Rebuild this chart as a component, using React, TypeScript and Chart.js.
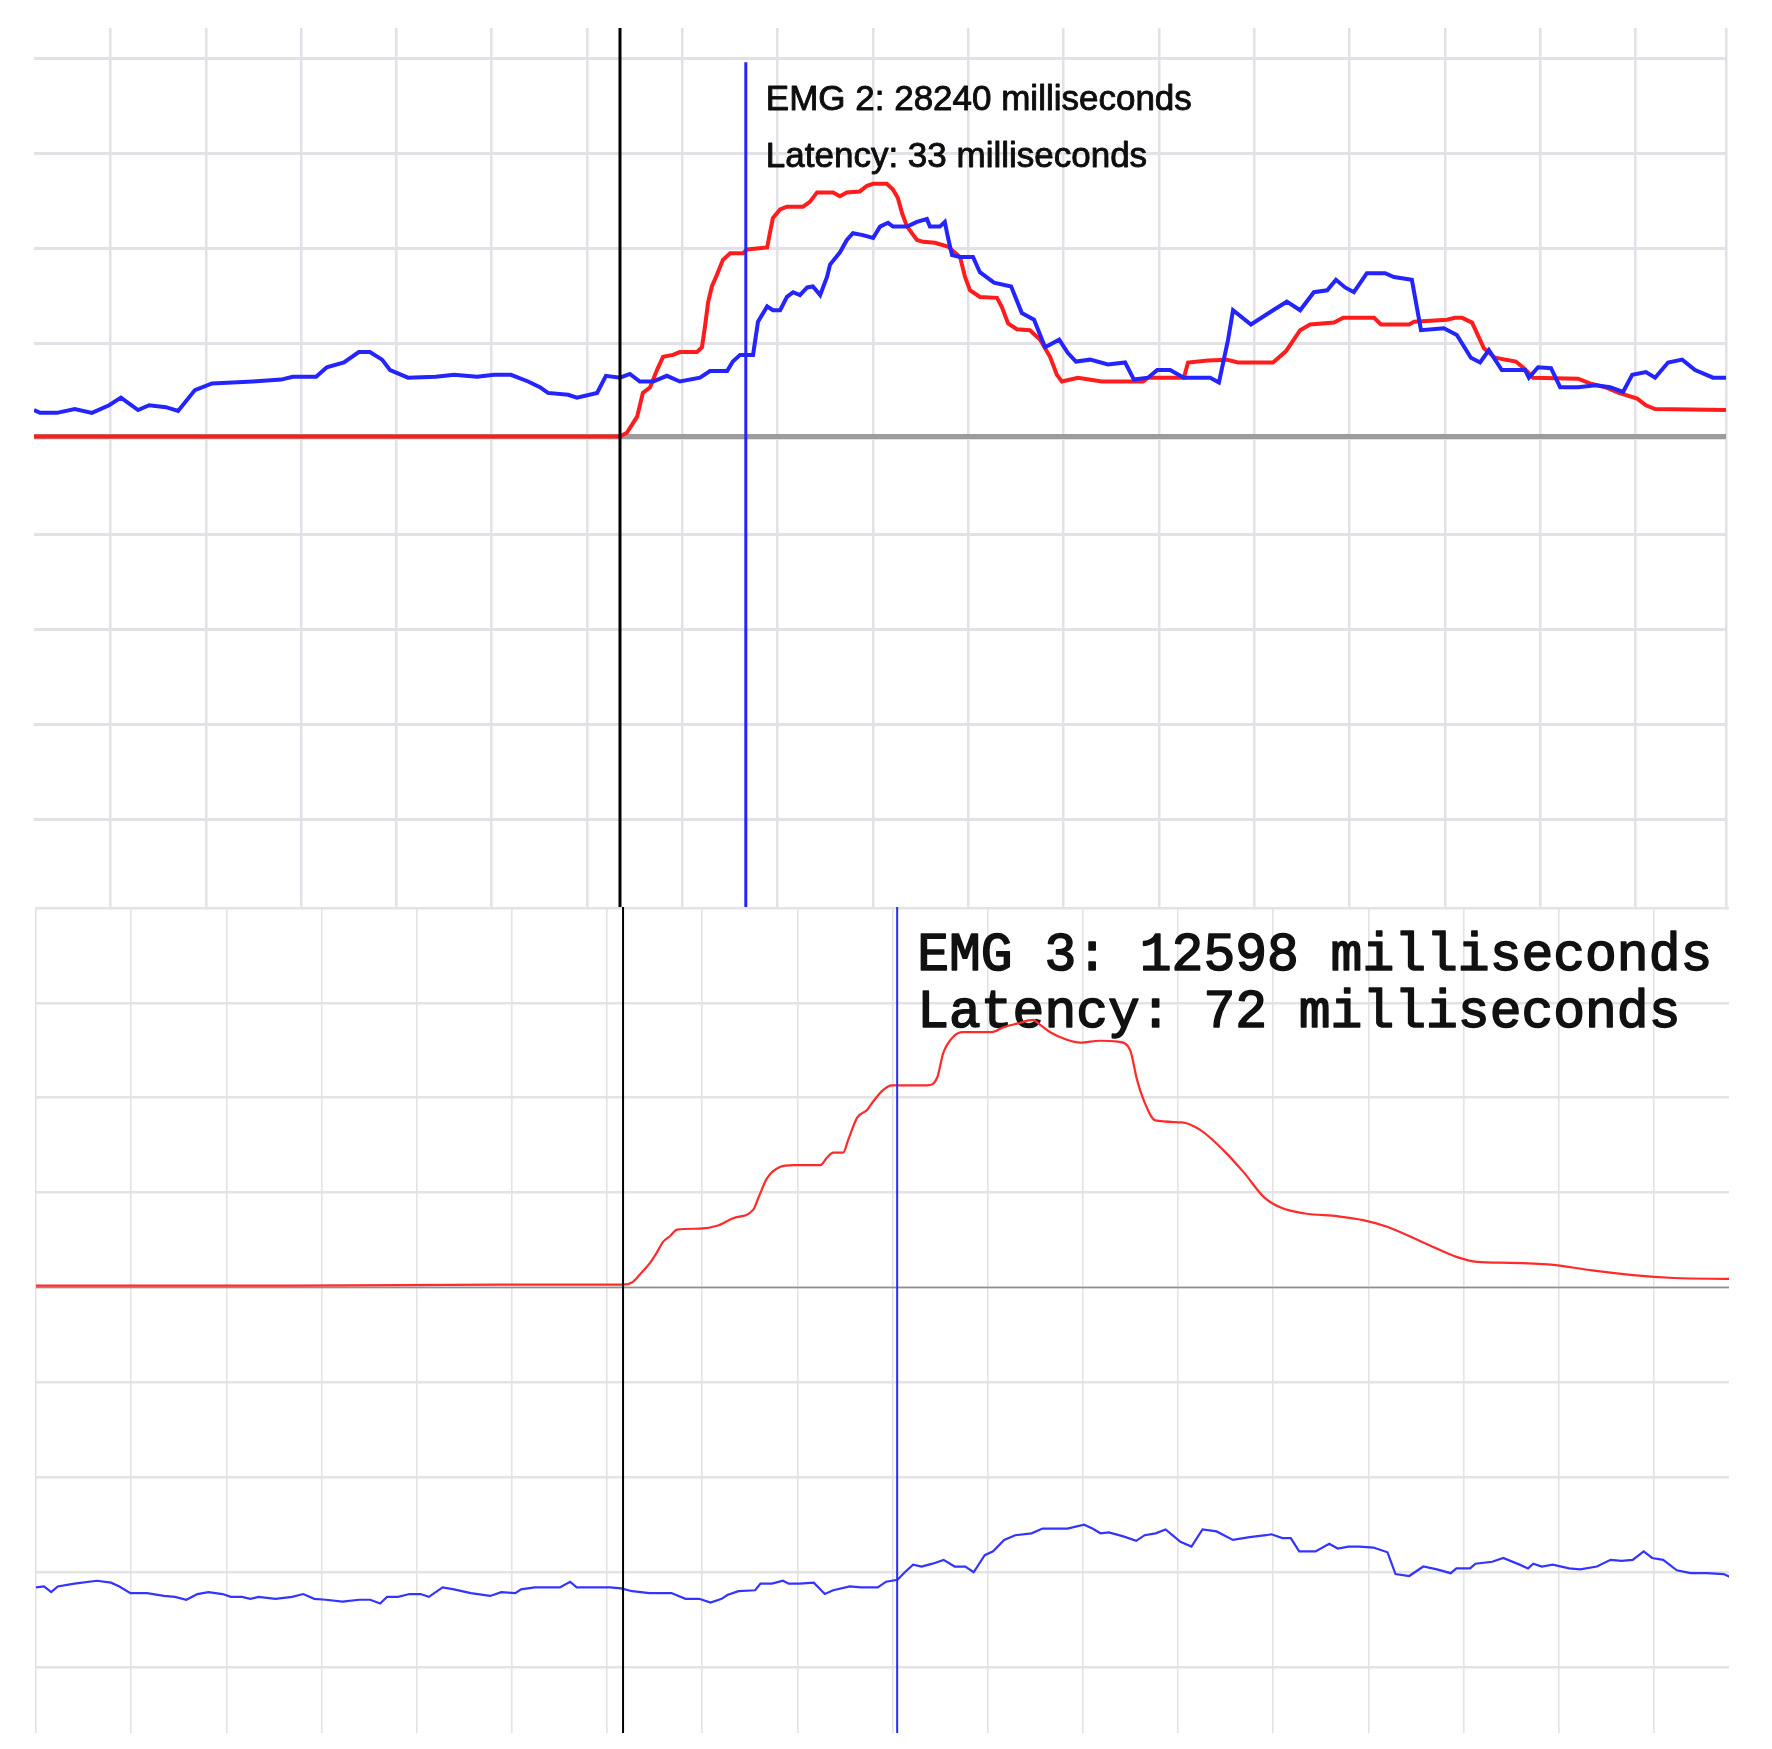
import React, { useEffect, useRef } from "react";
import { Chart, registerables } from "chart.js";

Chart.register(...registerables);

type Pt = [number, number];

// ---------------- EMG 2 (upper panel) ----------------
const emg2Lines = ["EMG 2: 28240 milliseconds", "Latency: 33 milliseconds"];
const emg2StimulusMs = 0;
const emg2LatencyMs = 33;
const emg2LatencyMarkerTop = 394;
const emg2XRange: Pt = [-153.7, 290.1];
const emg2YRange: Pt = [-495, 430];
const emg2FirstGridMs = -133.65;
const emg2GridCount = 17;
const emg2YGrid = [-402.5, -302.5, -202.5, -102.5, -2.5, 97.5, 197.5, 297.5, 397.5];

const emg2Blue: Pt[] = [
  [-153.7, 28], [-152.1, 25], [-147.7, 25], [-143.0, 29], [-138.5, 25], [-134.0, 33], [-130.9, 41], [-126.4, 28],
  [-123.5, 33], [-119.1, 31], [-115.9, 27], [-111.5, 49], [-107.0, 56], [-96.3, 58], [-88.9, 60], [-85.8, 63],
  [-79.7, 63], [-76.9, 73], [-72.4, 78], [-68.5, 89], [-65.6, 89], [-62.4, 81], [-60.3, 70], [-55.6, 62],
  [-48.3, 63], [-43.5, 65], [-37.5, 63], [-33.0, 65], [-28.6, 65], [-24.1, 58], [-21.0, 52], [-18.9, 46],
  [-13.6, 44], [-11.3, 41], [-6.0, 46], [-3.7, 64], [0, 62], [2.6, 66], [5.2, 58], [8.7, 58], [12.3, 64],
  [15.7, 58], [21.0, 62], [23.6, 69], [28.1, 69], [29.6, 79], [31.5, 86], [34.9, 86], [36.2, 121], [38.6, 137],
  [40.1, 133], [42.0, 133], [43.8, 147], [45.4, 152], [47.2, 149], [49.1, 157], [50.6, 158], [52.5, 149],
  [54.3, 168], [55.1, 181], [57.7, 194], [59.5, 207], [61.1, 214], [63.7, 212], [66.4, 209], [68.2, 221],
  [70.3, 225], [71.6, 221], [75.3, 221], [77.9, 226], [80.5, 229], [81.3, 221], [83.9, 221], [85.2, 226],
  [86.0, 210], [87.1, 191], [89.2, 189], [92.6, 189], [94.4, 173], [98.1, 162], [102.6, 158], [105.4, 130],
  [108.6, 123], [111.5, 94], [115.2, 102], [117.5, 88], [119.6, 79], [123.3, 81], [128.0, 76], [132.5, 78],
  [134.8, 60], [138.5, 62], [140.9, 70], [144.3, 70], [147.9, 62], [154.8, 62], [157.1, 57], [159.5, 102],
  [160.8, 133], [165.5, 118], [171.3, 133], [174.9, 142], [178.4, 133], [182.0, 152], [185.5, 154], [187.8, 165],
  [190.2, 157], [192.5, 152], [195.9, 172], [200.7, 172], [203.0, 168], [207.7, 165], [210.1, 112], [216.1, 114],
  [219.5, 107], [223.2, 83], [225.6, 78], [227.9, 91], [231.3, 70], [237.4, 70], [238.4, 62], [240.8, 73],
  [244.2, 72], [246.6, 52], [251.3, 52], [256.0, 54], [259.7, 52], [263.1, 47], [265.5, 65], [269.1, 68],
  [271.5, 62], [274.9, 78], [278.6, 81], [282.0, 70], [286.7, 62], [290.1, 62],
];

const emg2Red: Pt[] = [
  [-153.7, 0], [0, 0], [1.8, 4], [4.5, 21], [6.0, 46], [7.9, 52], [9.7, 70], [11.3, 84], [13.9, 86], [15.7, 89],
  [20.2, 89], [21.5, 94], [22.3, 116], [23.1, 141], [24.1, 158], [25.4, 170], [27.0, 186], [28.9, 193],
  [32.3, 193], [33.3, 197], [38.6, 199], [39.3, 214], [40.1, 230], [42.0, 239], [43.8, 242], [48.0, 242],
  [49.8, 247], [51.7, 257], [55.9, 257], [57.7, 253], [59.5, 257], [62.9, 258], [64.8, 264], [66.4, 266],
  [70.0, 266], [71.6, 260], [72.9, 251], [74.0, 235], [75.3, 221], [77.9, 207], [79.5, 205], [82.6, 204],
  [86.0, 200], [89.2, 189], [90.5, 168], [91.8, 154], [94.4, 147], [98.9, 146], [100.2, 136], [101.8, 119],
  [104.1, 113], [107.5, 112], [110.2, 102], [112.8, 84], [114.6, 65], [115.9, 58], [120.1, 62], [126.4, 58],
  [137.2, 58], [138.5, 62], [147.9, 62], [149.0, 78], [154.2, 80], [159.2, 81], [162.1, 78], [171.3, 78],
  [174.7, 90], [178.4, 112], [181.0, 118], [187.3, 120], [189.7, 125], [197.8, 125], [199.6, 118], [207.0, 118],
  [208.3, 121], [216.9, 123], [219.0, 125], [220.9, 125], [223.5, 120], [226.6, 93], [229.5, 83], [235.0, 79],
  [237.4, 71], [239.5, 62], [251.3, 61], [254.4, 56], [258.4, 52], [262.0, 46], [266.8, 40], [269.1, 33],
  [271.5, 29], [290.1, 28],
];

// ---------------- EMG 3 (lower panel) ----------------
const emg3Lines = ["EMG 3: 12598 milliseconds", "Latency: 72 milliseconds"];
const emg3StimulusMs = 0;
const emg3LatencyMs = 72;
const emg3XRange: Pt = [-154.2, 290.5];
const emg3YRange: Pt = [-469.4, 400.9];
const emg3FirstGridMs = -154.2;
const emg3GridCount = 18;
const emg3YGrid = [-400, -300, -200, -100, 0, 100, 200, 300, 400];

const emg3Red: Pt[] = [
  [-154.2, 2], [-84.9, 2], [-32.3, 3], [0, 3], [2.6, 6], [4.7, 15], [7.1, 26], [8.9, 37], [10.5, 48], [12.3, 54],
  [14.2, 61], [20.2, 62], [24.7, 65], [28.9, 73], [34.2, 82], [35.5, 94], [37.8, 115], [41.2, 127], [44.7, 129],
  [51.8, 129], [53.6, 137], [55.2, 142], [57.8, 142], [59.1, 155], [61.5, 179], [64.1, 187], [65.7, 196],
  [68.3, 208], [70.6, 213], [74.6, 213], [79.9, 213], [82.5, 221], [84.1, 247], [86.7, 264], [89.3, 269],
  [96.9, 269], [99.8, 274], [103.5, 278], [107.7, 282], [109.5, 277], [112.2, 269], [116.6, 261], [120.1, 258],
  [125.3, 260], [130.0, 259], [133.2, 250], [135.0, 219], [137.1, 194], [139.8, 176], [146.8, 174], [151.6, 166],
  [157.6, 145], [163.1, 121], [168.4, 95], [172.9, 84], [179.2, 78], [187.8, 75], [194.4, 71], [200.7, 64],
  [211.5, 45], [219.1, 32], [224.3, 27], [233.0, 26], [243.8, 24], [254.6, 18], [265.3, 13], [276.1, 10],
  [290.5, 9],
];

const emg3Blue: Pt[] = [
  [-154.3, -316], [-152.1, -315], [-150.2, -321], [-148.5, -315], [-144.1, -312], [-138.2, -309], [-134.5, -311],
  [-132.3, -315], [-129.4, -322], [-125.0, -322], [-120.6, -325], [-117.7, -326], [-114.7, -329], [-111.8, -323],
  [-108.9, -321], [-105.2, -323], [-103.0, -326], [-100.1, -326], [-97.9, -328], [-95.7, -326], [-91.3, -328],
  [-86.9, -326], [-84.0, -323], [-81.1, -328], [-78.1, -329], [-73.7, -331], [-69.3, -329], [-66.4, -329],
  [-63.8, -333], [-62.0, -326], [-59.1, -326], [-56.1, -323], [-53.2, -323], [-51.0, -326], [-47.4, -316],
  [-44.4, -318], [-40.0, -322], [-34.9, -325], [-32.0, -321], [-28.3, -322], [-26.8, -318], [-23.2, -316],
  [-16.6, -316], [-13.9, -310], [-12.2, -316], [-9.3, -316], [-6.3, -316], [-3.4, -316], [-0.5, -317],
  [2.4, -320], [6.9, -322], [12.7, -322], [16.4, -328], [20.0, -328], [23.0, -332], [25.9, -328], [27.4, -324],
  [30.3, -320], [34.7, -319], [36.1, -312], [39.1, -312], [42.0, -309], [43.5, -312], [46.4, -312], [50.1, -311],
  [53.0, -323], [55.2, -319], [59.6, -315], [62.5, -316], [66.9, -316], [69.1, -310], [72.1, -308], [74.0, -300],
  [76.2, -292], [78.4, -294], [81.3, -291], [84.2, -287], [87.1, -294], [89.9, -294], [92.1, -300], [95.0, -282],
  [97.2, -278], [100.1, -266], [103.0, -261], [107.3, -259], [110.2, -254], [116.7, -254], [121.1, -250],
  [123.3, -254], [125.4, -259], [127.6, -258], [131.2, -262], [134.8, -267], [137.0, -261], [139.9, -259],
  [142.5, -255], [144.3, -261], [146.4, -268], [149.3, -273], [152.2, -255], [155.9, -257], [160.2, -266],
  [164.6, -263], [168.9, -261], [170.3, -260], [173.2, -264], [175.4, -264], [177.6, -278], [181.9, -278],
  [185.5, -270], [187.7, -275], [190.6, -273], [193.5, -273], [197.1, -274], [200.8, -279], [202.9, -302],
  [206.5, -304], [210.2, -294], [213.8, -297], [217.4, -301], [218.9, -296], [222.5, -296], [223.9, -291],
  [228.3, -289], [231.2, -285], [235.5, -292], [237.7, -296], [239.1, -291], [241.3, -294], [244.2, -292],
  [248.5, -296], [251.4, -297], [255.8, -294], [259.4, -287], [262.3, -288], [265.2, -287], [268.1, -278],
  [270.3, -285], [273.2, -287], [276.8, -298], [280.4, -301], [284.7, -301], [289.1, -302], [291.3, -306],
];

// ---------------- helpers ----------------
const toXY = (a: Pt[]) => a.map(([x, y]) => ({ x, y }));
const PAD = 4;

const textPlugin = {
  id: "emgText",
  beforeDatasetsDraw(chart: any, _args: any, o: any) {
    const { ctx, chartArea } = chart;
    const x = chart.scales.x.getPixelForValue(o.anchor) + o.dx;
    ctx.save();
    ctx.font = o.font;
    ctx.fillStyle = o.color;
    ctx.strokeStyle = o.color;
    ctx.lineWidth = o.stroke;
    ctx.lineJoin = "round";
    ctx.textBaseline = "alphabetic";
    ctx.textAlign = "left";
    o.lines.forEach((t: string, i: number) => {
      const y = chartArea.top + o.y0 + i * o.dy;
      ctx.fillText(t, x, y);
      if (o.stroke > 0) ctx.strokeText(t, x, y);
    });
    ctx.restore();
  },
};

function buildConfig(p: any) {
  const [xMin, xMax] = p.xRange;
  const [yMin, yMax] = p.yRange;
  const xTicks = Array.from({ length: p.gridCount }, (_, k) => p.firstGrid + 25 * k).concat(p.extraX);
  return {
    type: "line",
    data: { datasets: p.datasets(xMin, xMax, yMin, yMax) },
    options: {
      animation: false,
      responsive: false,
      devicePixelRatio: 1,
      layout: { padding: PAD },
      events: [],
      elements: { point: { radius: 0 }, line: { tension: 0, fill: false } },
      plugins: {
        legend: { display: false },
        tooltip: { enabled: false },
        emgText: p.text,
      },
      scales: {
        x: {
          type: "linear",
          min: xMin,
          max: xMax,
          ticks: { display: false },
          border: { display: false },
          grid: { color: p.gridColor, lineWidth: p.xGridWidth, drawTicks: false },
          afterBuildTicks: (axis: any) => {
            axis.ticks = xTicks.map((v: number) => ({ value: v }));
          },
        },
        y: {
          type: "linear",
          min: yMin,
          max: yMax,
          ticks: { display: false },
          border: { display: false },
          grid: { color: p.gridColor, lineWidth: p.yGridWidth, drawTicks: false },
          afterBuildTicks: (axis: any) => {
            axis.ticks = p.yGrid.map((v: number) => ({ value: v }));
          },
        },
      },
    },
    plugins: [textPlugin],
  };
}

function Panel(props: { left: number; top: number; width: number; height: number; cfg: any }) {
  const ref = useRef<HTMLCanvasElement | null>(null);
  useEffect(() => {
    if (!ref.current) return;
    const chart = new Chart(ref.current, props.cfg);
    return () => chart.destroy();
  }, []);
  const w = props.width + 2 * PAD;
  const h = props.height + 2 * PAD;
  return (
    <canvas
      ref={ref}
      width={w}
      height={h}
      style={{ position: "absolute", left: props.left - PAD, top: props.top - PAD, width: w, height: h }}
    />
  );
}

const topCfg = buildConfig({
  xRange: emg2XRange,
  yRange: emg2YRange,
  firstGrid: emg2FirstGridMs,
  gridCount: emg2GridCount,
  extraX: [emg2XRange[1]],
  yGrid: emg2YGrid,
  gridColor: "#e4e0e7",
  xGridWidth: 2.5,
  yGridWidth: 3,
  text: {
    anchor: emg2LatencyMs, dx: 20, y0: 82, dy: 57, lines: emg2Lines,
    font: "35px 'Liberation Sans', Arial, sans-serif", color: "#0d0d0d", stroke: 0.9,
  },
  datasets: (xMin: number, xMax: number, yMin: number, yMax: number) => [
    { data: [{ x: xMin, y: 0 }, { x: xMax, y: 0 }], borderColor: "#9c9c9c", borderWidth: 5, order: 10 },
    { data: toXY(emg2Red), borderColor: "#ff1c1c", borderWidth: 4, order: 3 },
    { data: toXY(emg2Blue), borderColor: "#2424ff", borderWidth: 4, order: 2 },
    { data: [{ x: emg2StimulusMs, y: yMin }, { x: emg2StimulusMs, y: yMax }], borderColor: "#000000", borderWidth: 3, order: 1 },
    { data: [{ x: emg2LatencyMs, y: yMin }, { x: emg2LatencyMs, y: emg2LatencyMarkerTop }], borderColor: "#2424ff", borderWidth: 3, order: 0 },
  ],
});

const bottomCfg = buildConfig({
  xRange: emg3XRange,
  yRange: emg3YRange,
  firstGrid: emg3FirstGridMs,
  gridCount: emg3GridCount,
  extraX: [],
  yGrid: emg3YGrid,
  gridColor: "#e3e3e3",
  xGridWidth: 1.6,
  yGridWidth: 2.5,
  text: {
    anchor: emg3LatencyMs, dx: 20, y0: 63, dy: 57, lines: emg3Lines,
    font: "53px 'Liberation Mono', 'Courier New', monospace", color: "#111111", stroke: 1.6,
  },
  datasets: (xMin: number, xMax: number, yMin: number, yMax: number) => [
    { data: [{ x: xMin, y: 0 }, { x: xMax, y: 0 }], borderColor: "#8e8e8e", borderWidth: 1.5, order: 10 },
    { data: toXY(emg3Red), borderColor: "#ff2a2a", borderWidth: 2.2, order: 3, cubicInterpolationMode: "monotone" },
    { data: toXY(emg3Blue), borderColor: "#3434ff", borderWidth: 2.2, order: 2 },
    { data: [{ x: emg3StimulusMs, y: yMin }, { x: emg3StimulusMs, y: yMax }], borderColor: "#000000", borderWidth: 2, order: 1 },
    { data: [{ x: emg3LatencyMs, y: yMin }, { x: emg3LatencyMs, y: yMax }], borderColor: "#2a2aff", borderWidth: 2, order: 0 },
  ],
});

export default function App() {
  return (
    <div style={{ position: "absolute", left: 0, top: 0, width: 1772, height: 1749, background: "#ffffff", overflow: "hidden" }}>
      <Panel left={34} top={28} width={1692} height={879} cfg={topCfg} />
      <Panel left={36} top={907} width={1693} height={826} cfg={bottomCfg} />
    </div>
  );
}
